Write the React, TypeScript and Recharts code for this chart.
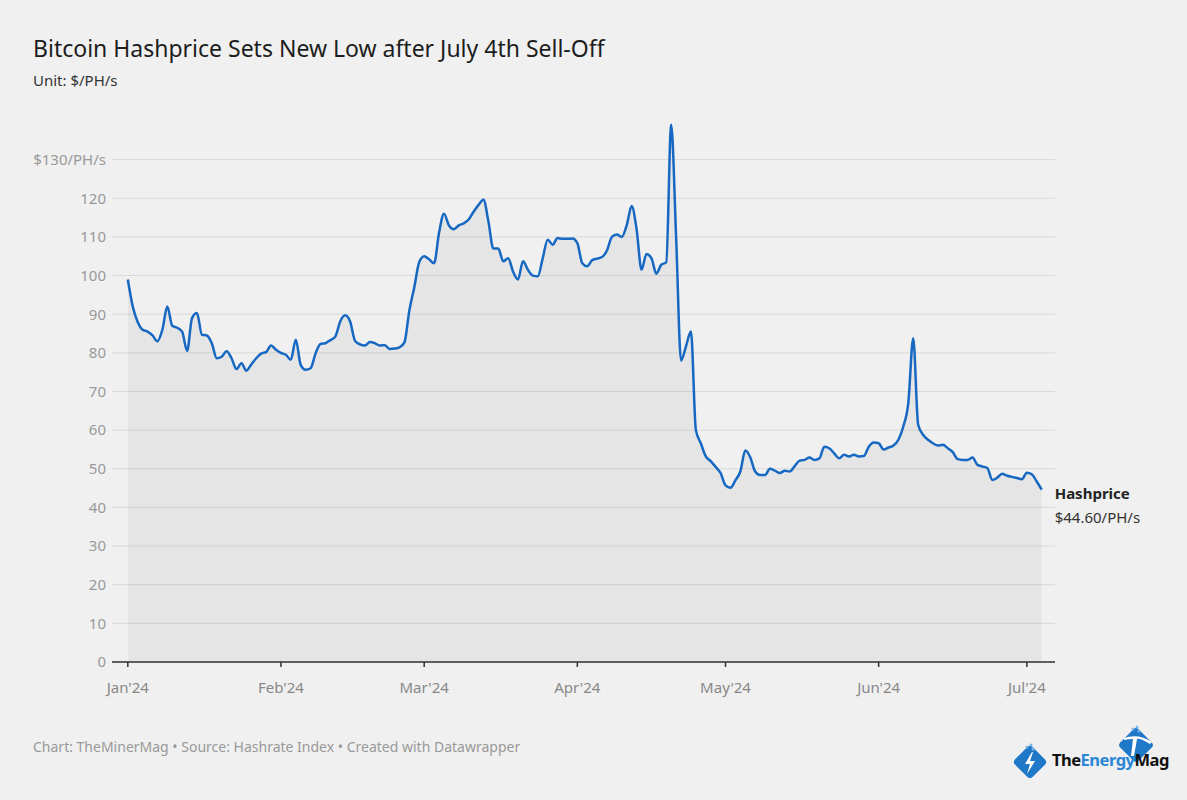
import { ComposedChart, Area, XAxis, YAxis, CartesianGrid, LabelList } from 'recharts'

// daily hashprice, $/PH/s
const janValues = [
  99, 92, 88, 86, 85.5, 84.5, 83, 86, 92, 87, 86.5, 85.5, 80.5, 89, 90.3, 84.7,
  84.5, 82.5, 78.6, 79, 80.4, 78.6, 75.8, 77.3, 75.4, 77, 78.6, 79.8, 80.2, 81.9, 80.8
]
const febValues = [
  80, 79.5, 78.2, 83.4, 76.9, 75.6, 76, 79.8, 82.3, 82.5, 83.3, 84.2, 88.1, 89.7, 88.1,
  83.1, 82.2, 81.9, 82.8, 82.5, 81.9, 82, 81, 81.1, 81.4, 82.7, 91, 97, 103.5
]
const marValues = [
  105, 104.2, 103.2, 111, 116, 113, 112, 113, 113.5, 114.5, 116.5, 118.3, 119.6, 114, 107,
  107, 103.7, 104.5, 101, 99, 103.7, 101.5, 100, 99.8, 104.5, 109.3, 108, 109.7, 109.5, 109.5, 109.6
]
const aprValues = [
  108.4, 103.2, 102.4, 104, 104.4, 104.8, 106.5, 110, 110.6, 110, 113, 118, 112, 101.5, 105.6,
  104.5, 100.5, 102.8, 103.4, 139, 110, 78, 81.7, 85.5, 60, 56.6, 53.2, 52, 50.5, 48.9
]
const mayValues = [
  45.7, 45.1, 47, 49.3, 54.7, 53, 49.3, 48.4, 48.4, 50, 49.5, 48.9, 49.5, 49.3, 50.7, 52.1,
  52.3, 52.9, 52.3, 52.7, 55.7, 55.3, 54, 52.7, 53.6, 53.2, 53.6, 53.2, 53.3, 55.7, 56.8
]
const junValues = [
  56.6, 55, 55.5, 56, 57.5, 61, 67, 83.8, 61.4, 58.8, 57.5, 56.6, 56, 56.2, 55.3,
  54.3, 52.5, 52.3, 52.3, 52.9, 51, 50.6, 50.2, 47.1, 47.7, 48.7, 48.2, 47.9, 47.6, 47.3
]
const julValues = [49, 48.6, 46.7, 44.6]

// day index (0 = Jan 1) of each month start
const monthTicks = [0, 31, 60, 91, 121, 152, 182]
const monthLabels = ["Jan'24", "Feb'24", "Mar'24", "Apr'24", "May'24", "Jun'24", "Jul'24"]
const yTicks = [0, 10, 20, 30, 40, 50, 60, 70, 80, 90, 100, 110, 120, 130]

const seriesName = 'Hashprice'

const values = [...janValues, ...febValues, ...marValues, ...aprValues, ...mayValues, ...junValues, ...julValues]
const data = values.map((value, day) => ({ day, value }))
const lastIndex = data.length - 1

const font = '"Noto Sans", sans-serif'

function EndLabel(props: any) {
  const { x, y, index, value } = props
  if (index !== lastIndex) return null
  return (
    <g>
      <text x={x + 13} y={y + 9} fontSize={15} fontWeight="bold" fill="#222" fontFamily={font}>
        {seriesName}
      </text>
      <text x={x + 13} y={y + 33} fontSize={15} fill="#333" fontFamily={font}>
        ${value.toFixed(2)}/PH/s
      </text>
    </g>
  )
}

function Logo() {
  return (
    <svg width={1187} height={800} style={{ position: 'absolute', left: 0, top: 0, pointerEvents: 'none' }}>
      {/* right diamond with pickaxe */}
      <g transform="translate(1136,745) rotate(45)">
        <rect x={-13} y={-13} width={26} height={26} rx={4} fill="#1f78c8" />
      </g>
      <path d="M1124 738 Q1138 733 1152 742 L1150 744 Q1140 738 1137 739 L1134 756 L1131 756 L1133 739 Q1128 739 1124 740 Z" fill="#fff" />
      <circle cx={1133} cy={729} r={1.5} fill="#7fb4e6" />
      <circle cx={1137} cy={727} r={1.5} fill="#7fb4e6" />
      <circle cx={1139} cy={731} r={1.5} fill="#7fb4e6" />
      {/* left diamond with bolt */}
      <g transform="translate(1030,762) rotate(45)">
        <rect x={-12.5} y={-12.5} width={25} height={25} rx={4} fill="#1f78c8" />
      </g>
      <path d="M1032 752 L1025 764 L1030 764 L1027 774 L1035 761 L1030 761 L1033 752 Z" fill="#fff" />
      <circle cx={1027} cy={747} r={1.5} fill="#7fb4e6" />
      <circle cx={1031} cy={745} r={1.5} fill="#7fb4e6" />
      <circle cx={1033} cy={749} r={1.5} fill="#7fb4e6" />
      <text x={1052} y={766} fontSize={16.5} fontWeight="bold" fontFamily={font} letterSpacing={-0.5}>
        <tspan fill="#111">The</tspan>
        <tspan fill="#2a86d6">Energy</tspan>
        <tspan fill="#111">Mag</tspan>
      </text>
    </svg>
  )
}

export default function App() {
  return (
    <div
      style={{
        position: 'absolute',
        left: 0,
        top: 0,
        width: 1187,
        height: 800,
        background: '#f0f0f0',
        fontFamily: font,
        overflow: 'hidden'
      }}
    >
      <div style={{ position: 'absolute', left: 33, top: 37, fontSize: 23, lineHeight: '23px', color: '#1d1d1d', whiteSpace: 'nowrap' }}>
        Bitcoin Hashprice Sets New Low after July 4th Sell-Off
      </div>
      <div style={{ position: 'absolute', left: 33, top: 73, fontSize: 15, lineHeight: '15px', color: '#333' }}>
        Unit: $/PH/s
      </div>

      <div style={{ position: 'absolute', left: 0, top: 0 }}>
        <ComposedChart width={1187} height={800} data={data} margin={{ top: 121, right: 132, bottom: 108, left: 0 }}>
          <CartesianGrid vertical={false} stroke="#d9d9d9" strokeWidth={1} syncWithTicks />
          <XAxis
            dataKey="day"
            type="number"
            domain={[-3.2, 187.7]}
            ticks={monthTicks}
            tickFormatter={(d: number) => monthLabels[monthTicks.indexOf(d)]}
            axisLine={{ stroke: '#333', strokeWidth: 1.5 }}
            tickLine={{ stroke: '#333', strokeWidth: 1.5 }}
            tickSize={5}
            tickMargin={15}
            height={30}
            tick={{ fill: '#888', fontSize: 15, fontFamily: font }}
            interval={0}
          />
          <YAxis
            type="number"
            domain={[0, 140]}
            ticks={yTicks}
            width={112}
            axisLine={false}
            tickLine={false}
            tickMargin={0}
            tickFormatter={(v: number) => (v === 130 ? '$130/PH/s' : String(v))}
            tick={{ fill: '#999', fontSize: 15, fontFamily: font }}
            interval={0}
          />
          <Area
            dataKey="value"
            type="monotone"
            stroke="#1668c2"
            strokeWidth={2.5}
            fill="#000"
            fillOpacity={0.045}
            dot={false}
            activeDot={false}
            isAnimationActive={false}
          >
            <LabelList dataKey="value" content={EndLabel} />
          </Area>
        </ComposedChart>
      </div>

      <div style={{ position: 'absolute', left: 33, top: 740, fontSize: 14, lineHeight: '14px', color: '#999', whiteSpace: 'nowrap' }}>
        Chart: TheMinerMag • Source: Hashrate Index • Created with Datawrapper
      </div>
      <Logo />
    </div>
  )
}
